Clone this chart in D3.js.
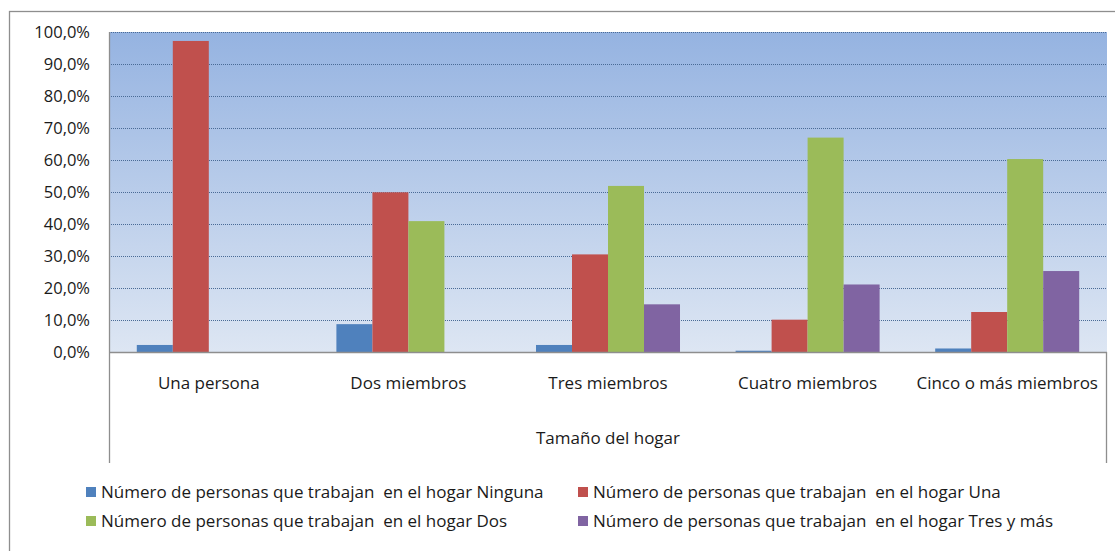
<!DOCTYPE html>
<html>
<head>
<meta charset="utf-8">
<script src="https://cdn.jsdelivr.net/npm/d3@7"></script>
<style>
  body { margin: 0; background: #fff; }
  text { font-family: "Open Sans", Lato, sans-serif; fill: #1a1a1a; white-space: pre; }
</style>
</head>
<body>
<div id="chart"></div>
<script>
// chart values (share of households)
const categories = ["Una persona", "Dos miembros", "Tres miembros", "Cuatro miembros", "Cinco o más miembros"];
const seriesNames = [
  "Número de personas que trabajan  en el hogar Ninguna",
  "Número de personas que trabajan  en el hogar Una",
  "Número de personas que trabajan  en el hogar Dos",
  "Número de personas que trabajan  en el hogar Tres y más"
];
const ninguna = [0.022, 0.087, 0.022, 0.004, 0.011];
const una     = [0.972, 0.499, 0.305, 0.101, 0.125];
const dos     = [0.0,   0.409, 0.519, 0.670, 0.603];
const tresMas = [0.0,   0.0,   0.149, 0.211, 0.253];
const yTicks = [0, 0.1, 0.2, 0.3, 0.4, 0.5, 0.6, 0.7, 0.8, 0.9, 1.0];
const colors = ["#4F81BD", "#C0504D", "#9BBB59", "#8064A2"];
const xTitle = "Tamaño del hogar";

const width = 1115, height = 551;
const margin = {top: 32, right: 8, bottom: 199, left: 109};
const plotRight = width - margin.right;
const plotBottom = height - margin.bottom;

const allSeries = [ninguna, una, dos, tresMas];

const svg = d3.select("#chart").append("svg")
  .attr("width", width)
  .attr("height", height);

// gradient for plot area
const defs = svg.append("defs");
const grad = defs.append("linearGradient")
  .attr("id", "bg").attr("x1", 0).attr("y1", 0).attr("x2", 0).attr("y2", 1);
grad.append("stop").attr("offset", "0%").attr("stop-color", "#95B3E1");
grad.append("stop").attr("offset", "100%").attr("stop-color", "#DDE6F3");

// outer frame
svg.append("rect")
  .attr("x", 9.5).attr("y", 11.5)
  .attr("width", width).attr("height", height)
  .attr("fill", "none").attr("stroke", "#8e8e8e").attr("stroke-width", 1.3);

const x0 = d3.scaleBand()
  .domain(categories)
  .range([margin.left, plotRight]);

const x1 = d3.scaleBand()
  .domain(d3.range(seriesNames.length))
  .range([0, x0.bandwidth()])
  .paddingInner(0)
  .paddingOuter(0.772);

const y = d3.scaleLinear()
  .domain([0, 1])
  .range([plotBottom, margin.top]);

const locale = d3.formatLocale({decimal: ",", thousands: ".", grouping: [3], currency: ["", "€"]});
const pct = locale.format(".1%");

// plot background
svg.append("rect")
  .attr("x", margin.left).attr("y", margin.top)
  .attr("width", plotRight - margin.left)
  .attr("height", plotBottom - margin.top)
  .attr("fill", "url(#bg)");

// gridlines
svg.append("g")
  .selectAll("line")
  .data(yTicks.filter(d => d > 0))
  .join("line")
    .attr("x1", margin.left).attr("x2", plotRight)
    .attr("y1", d => Math.round(y(d)) + 0.5)
    .attr("y2", d => Math.round(y(d)) + 0.5)
    .attr("stroke", "#4a6b96")
    .attr("stroke-width", 1)
    .attr("stroke-dasharray", "1,1");

// y-axis labels
svg.append("g")
  .selectAll("text")
  .data(yTicks)
  .join("text")
    .attr("x", 90)
    .attr("y", d => y(d))
    .attr("dy", "0.35em")
    .attr("text-anchor", "end")
    .attr("font-size", "16.5px")
    .text(d => pct(d));

// bars
const groups = svg.append("g")
  .selectAll("g")
  .data(categories)
  .join("g")
    .attr("transform", d => `translate(${x0(d)},0)`);

groups.selectAll("rect")
  .data((c, i) => allSeries.map((s, k) => ({k: k, v: s[i]})))
  .join("rect")
    .attr("x", d => x1(d.k))
    .attr("y", d => y(d.v))
    .attr("width", x1.bandwidth())
    .attr("height", d => plotBottom - y(d.v))
    .attr("fill", d => colors[d.k]);

// axis lines
const axisColor = "#8e8e8e";
svg.append("line")
  .attr("x1", margin.left + 0.5).attr("x2", margin.left + 0.5)
  .attr("y1", margin.top).attr("y2", 463)
  .attr("stroke", axisColor).attr("stroke-width", 1.3);
svg.append("line")
  .attr("x1", plotRight - 0.5).attr("x2", plotRight - 0.5)
  .attr("y1", plotBottom).attr("y2", 463)
  .attr("stroke", axisColor).attr("stroke-width", 1.3);
svg.append("line")
  .attr("x1", margin.left).attr("x2", plotRight)
  .attr("y1", plotBottom + 0.5).attr("y2", plotBottom + 0.5)
  .attr("stroke", axisColor).attr("stroke-width", 1.3);

// category labels
svg.append("g")
  .selectAll("text")
  .data(categories)
  .join("text")
    .attr("x", d => x0(d) + x0.bandwidth() / 2)
    .attr("y", 389)
    .attr("text-anchor", "middle")
    .attr("font-size", "17px")
    .text(d => d);

// axis title
svg.append("text")
  .attr("x", (margin.left + plotRight) / 2)
  .attr("y", 444)
  .attr("text-anchor", "middle")
  .attr("font-size", "17px")
  .text(xTitle);

// legend
const legendPos = [[86, 492], [578, 492], [86, 521], [578, 521]];
const legend = svg.append("g")
  .selectAll("g")
  .data(seriesNames)
  .join("g")
    .attr("transform", (d, i) => `translate(${legendPos[i][0]},${legendPos[i][1]})`);

legend.append("rect")
  .attr("x", 0).attr("y", -5)
  .attr("width", 10).attr("height", 10)
  .attr("fill", (d, i) => colors[i]);

legend.append("text")
  .attr("x", 15)
  .attr("y", 0)
  .attr("dy", "0.35em")
  .attr("font-size", "17px")
  .text(d => d);
</script>
</body>
</html>
